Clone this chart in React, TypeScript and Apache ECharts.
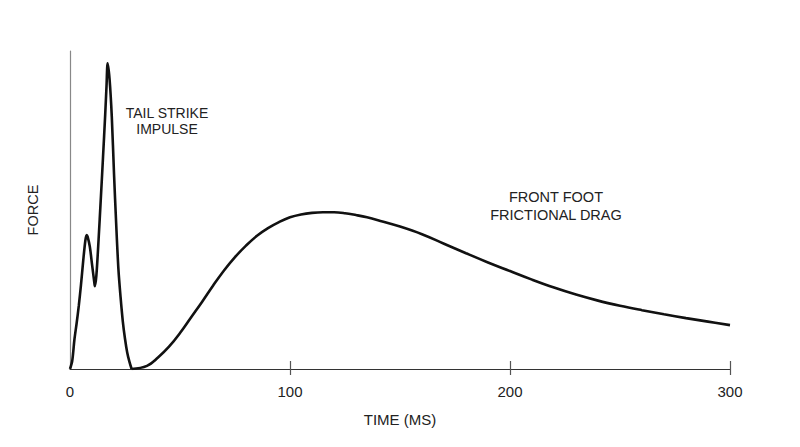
import React from 'react';
import * as echarts from 'echarts';

// tail strike impulse (time ms, force)
const impulseTime = [0, 1, 2, 3, 4, 5, 6, 7, 7.6, 8, 9, 10, 11, 11.3, 12, 13, 14, 15, 16, 16.6, 17.1, 18, 19, 20, 21, 22, 23, 24, 25, 26, 27, 28];
const impulseForce = [0, 2.5, 9.2, 14.3, 19.9, 26.5, 34, 40.5, 42.1, 41.6, 38.5, 33, 27.5, 26, 29.5, 40.8, 53.5, 66.5, 80, 89, 96.1, 91, 79.3, 61.5, 45.5, 31.5, 22.5, 15, 9.5, 5.2, 2.3, 0];

// front foot frictional drag (time ms, force)
const dragTime = [28, 35, 40, 45, 50, 55, 60, 65, 70, 75, 80, 85, 90, 95, 100, 105, 110, 115, 120, 125, 130, 135, 140, 150, 160, 170, 180, 190, 200, 210, 220, 230, 240, 250, 260, 270, 280, 290, 300];
const dragForce = [0, 1.0, 3.6, 7.0, 11.3, 16.2, 21.1, 26.2, 31.0, 35.2, 38.8, 41.9, 44.3, 46.2, 47.7, 48.6, 49.1, 49.3, 49.3, 49.0, 48.4, 47.7, 46.8, 44.8, 42.4, 39.4, 36.4, 33.5, 30.8, 28.1, 25.6, 23.4, 21.5, 19.9, 18.5, 17.2, 16.0, 14.9, 13.8];

const timeTicks = [100, 200, 300];
const timeLabels = [0, 100, 200, 300];

const FONT = '"Liberation Sans", Arial, Helvetica, sans-serif';

const zip = (xs: number[], ys: number[]) => xs.map((x, i) => [x, ys[i]]);

const App = () => {
  const chartRef = React.useRef(null);

  React.useEffect(() => {
    const myChart = echarts.init(chartRef.current, null, { renderer: 'svg' });

    const lineSeries = (name: string, data: number[][], smooth: number) => ({
      name,
      type: 'line',
      data,
      smooth,
      showSymbol: false,
      lineStyle: { color: '#111', width: 2.6 },
    });

    const option: any = {
      animation: false,
      backgroundColor: '#fff',
      // div sits inside the 8px body margin
      grid: { left: 62, right: 62, top: 43, bottom: 70 },
      xAxis: [
        {
          type: 'value',
          min: 0,
          max: 300,
          interval: 100,
          name: 'TIME (MS)',
          nameLocation: 'middle',
          nameGap: 43,
          nameTextStyle: { fontFamily: FONT, fontSize: 15, color: '#222' },
          axisLine: { show: true, lineStyle: { color: '#333', width: 1.2 } },
          axisTick: { show: true, inside: true, length: 8, customValues: timeTicks, lineStyle: { color: '#555', width: 1.2 } },
          axisLabel: { customValues: timeLabels, margin: 15, fontFamily: FONT, fontSize: 15, color: '#222' },
          splitLine: { show: false },
        },
        {
          type: 'value',
          min: 0,
          max: 300,
          interval: 100,
          position: 'bottom',
          axisLine: { show: false },
          axisTick: { show: true, inside: false, length: 6, customValues: timeTicks, lineStyle: { color: '#555', width: 1.2 } },
          axisLabel: { show: false },
          splitLine: { show: false },
        },
      ],
      yAxis: {
        type: 'value',
        min: 0,
        max: 100,
        name: 'FORCE',
        nameLocation: 'middle',
        nameGap: 30,
        nameTextStyle: { fontFamily: FONT, fontSize: 14.5, color: '#222' },
        axisLine: { show: true, lineStyle: { color: '#888', width: 1.2 } },
        axisTick: { show: false },
        axisLabel: { show: false },
        splitLine: { show: false },
      },
      graphic: [
        {
          type: 'text',
          x: 159,
          y: 113,
          style: {
            text: 'TAIL STRIKE\nIMPULSE',
            fontFamily: FONT,
            fontSize: 14,
            lineHeight: 16,
            fill: '#222',
            align: 'center',
            verticalAlign: 'middle',
          },
        },
        {
          type: 'text',
          x: 548,
          y: 198,
          style: {
            text: 'FRONT FOOT\nFRICTIONAL DRAG',
            fontFamily: FONT,
            fontSize: 14.5,
            lineHeight: 18,
            fill: '#222',
            align: 'center',
            verticalAlign: 'middle',
          },
        },
      ],
      series: [
        lineSeries('Tail strike impulse', zip(impulseTime, impulseForce), 0.3),
        lineSeries('Front foot frictional drag', zip(dragTime, dragForce), 0.4),
      ],
    };

    myChart.setOption(option);

    return () => {
      myChart.dispose();
    };
  }, []);

  return <div ref={chartRef} style={{ width: 784, height: 431 }} />;
};

export default App;
